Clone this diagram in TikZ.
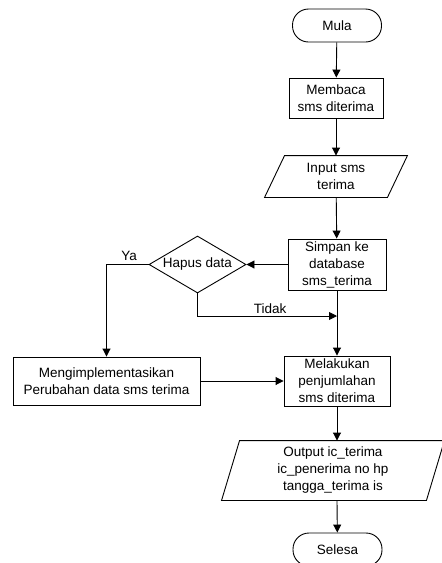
\documentclass[tikz,border=0pt]{standalone}
\usepackage{fontspec}
\setmainfont{Liberation Sans}
\usetikzlibrary{shapes.geometric, arrows.meta}
\tikzset{
    every node/.style={font=\fontsize{13.5}{17}\selectfont},
    terminal/.style={draw, rounded corners=16pt, minimum width=89pt, minimum height=33pt, inner sep=0pt},
    proses/.style={draw, align=center, inner sep=0pt},
    masukan/.style={align=center, inner sep=0pt},
    putusan/.style={draw, diamond, inner sep=0pt},
    panah/.style={-{Triangle[length=8pt,width=8pt]}}
}

\begin{document}
\begin{tikzpicture}[x=1pt, y=-1pt, line width=0.9pt]
        \useasboundingbox (0,0) rectangle (442,563);
        \clip (0,0) rectangle (442,563);

        % Main column
        \node[terminal] (mula) at (337,25.5) {Mula};
        \node[proses, minimum width=94pt, minimum height=40pt] (baca) at (336,98) {Membaca\\sms diterima};
        \node[masukan, minimum width=122pt, minimum height=41pt] (input) at (336,176.5) {Input sms\\terima};
        \node[proses, minimum width=98pt, minimum height=51pt] (simpan) at (337,264.5) {Simpan ke\\database\\sms\_terima};
        \node[proses, minimum width=106pt, minimum height=50pt] (hitung) at (337,381) {Melakukan\\penjumlahan\\sms diterima};
        \node[masukan, minimum width=204pt, minimum height=59pt] (output) at (333,470.5) {Output ic\_terima\\ic\_penerima no hp\\tangga\_terima is};
        \node[terminal] (selesa) at (337.5,549.5) {Selesa};

        % Slanted input/output boxes
        \draw ([xshift=10pt]input.north west) -- ([xshift=10pt]input.north east)
            -- ([xshift=-10pt]input.south east) -- ([xshift=-10pt]input.south west) -- cycle;
        \draw ([xshift=9pt]output.north west) -- ([xshift=9pt]output.north east)
            -- ([xshift=-9pt]output.south east) -- ([xshift=-9pt]output.south west) -- cycle;

        % Decision branch
        \node[putusan, minimum width=97pt, minimum height=57pt, label=center:Hapus data] (hapus) at (197.5,264.5) {};
        \node[proses, minimum width=187pt, minimum height=48pt] (ubah) at (106.5,381) {Mengimplementasikan\\Perubahan data sms terima};
        \coordinate (gabung) at (337,316);

        % Connectors
        \draw[panah] (mula) -- (baca);
        \draw[panah] (baca) -- (input);
        \draw[panah] (input) -- (simpan);
        \draw[panah] (simpan) -- (hapus);
        \draw[panah] (simpan) -- (hitung);
        \draw[panah] (hapus.south) |- node[pos=0.76, above, inner sep=1.5pt] {Tidak} (gabung);
        \draw[panah] (hapus.west) -| node[pos=0.23, above] {Ya} (ubah.north);
        \draw[panah] (ubah) -- (hitung);
        \draw[panah] (hitung) -- (hitung |- output.north);
        \draw[panah] (hitung |- output.south) -- (selesa);
    \end{tikzpicture}
\end{document}
